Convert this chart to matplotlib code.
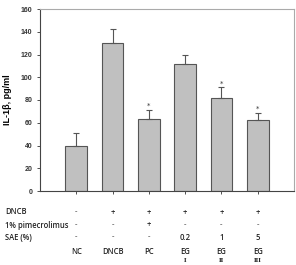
import matplotlib
matplotlib.use("Agg")
import matplotlib.pyplot as plt

groups = ["NC", "DNCB", "PC", "EG", "EG", "EG"]
roman = ["", "", "", "I", "II", "III"]
values = [40, 130, 63, 112, 82, 62]
errors = [11, 12, 8, 8, 9, 7]
significant = [False, False, True, False, True, True]
row_labels = ["DNCB", "1% pimecrolimus", "SAE (%)"]
row_dncb = ["-", "+", "+", "+", "+", "+"]
row_pime = ["-", "-", "+", "-", "-", "-"]
row_sae = ["-", "-", "-", "0.2", "1", "5"]
yticks = [0, 20, 40, 60, 80, 100, 120, 140, 160]

fig = plt.figure(figsize=(2.96, 2.65), dpi=100)
ax = fig.add_axes([40/296, 1 - 191/265, 254/296, 182/265])
x = list(range(1, len(values) + 1))
ax.bar(x, values, width=0.6, color="#c0c0c0", edgecolor="#555555", linewidth=0.8, zorder=2)
ax.errorbar(x, values, yerr=[[0]*len(errors), errors], fmt="none", ecolor="#555555",
            elinewidth=0.8, capsize=2.5, capthick=0.8, zorder=3)
for xi, v, e, s in zip(x, values, errors, significant):
    if s:
        ax.text(xi, v + e + 1, "*", ha="center", va="bottom", fontsize=5, color="#333333")
ax.set_xlim(0, 7)
ax.set_ylim(0, 160)
ax.set_yticks(yticks)
ax.set_yticklabels([str(t) for t in yticks], fontsize=5, fontweight="bold", family="Liberation Sans")
ax.set_xticks(x)
ax.set_xticklabels([])
ax.tick_params(axis="both", direction="out", length=2, width=0.6, colors="#333333")
ax.set_ylabel("IL-1β, pg/ml", fontsize=6.5, fontweight="bold", family="Liberation Sans", labelpad=6)
for side in ["left", "bottom"]:
    ax.spines[side].set_color("#444444")
    ax.spines[side].set_linewidth(0.8)
for side in ["top", "right"]:
    ax.spines[side].set_color("#aaaaaa")
    ax.spines[side].set_linewidth(0.8)

def fx(xv):
    return (40 + xv * 254 / 7) / 296

def fy(ypix):
    return 1 - ypix / 265

fs = 5.5
fam = "Open Sans"
for lbl, yp in zip(row_labels, [212, 225, 237]):
    fig.text(5/296, fy(yp), lbl, ha="left", va="center", fontsize=fs, family=fam, fontweight="semibold", color="#222222")
for row, yp in zip([row_dncb, row_pime, row_sae], [212, 225, 237]):
    for xi, s in zip(x, row):
        fig.text(fx(xi), fy(yp), s, ha="center", va="center", fontsize=fs, family=fam,
                 fontweight="semibold", color="#222222" if s not in ("-",) else "#777777")
for xi, g, r in zip(x, groups, roman):
    fig.text(fx(xi), fy(251), g, ha="center", va="center", fontsize=fs, family=fam, fontweight="semibold", color="#222222")
    if r:
        fig.text(fx(xi), fy(261), r, ha="center", va="center", fontsize=4, family="DejaVu Serif", fontweight="bold", color="#222222")

fig.savefig("out.png", dpi=100)
